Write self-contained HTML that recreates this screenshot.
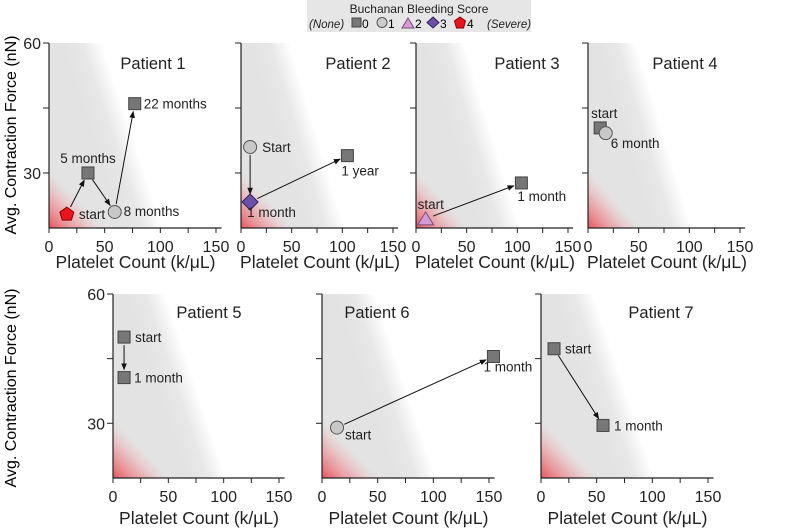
<!DOCTYPE html>
<html><head><meta charset="utf-8">
<style>
body{margin:0;background:#fff;}
svg{display:block;font-family:"Liberation Sans",Arial,sans-serif;}
</style></head>
<body>
<svg id="chart" width="797" height="528" viewBox="0 0 797 528" xmlns="http://www.w3.org/2000/svg">
<defs>
<marker id="arr" viewBox="0 0 10 10" refX="9" refY="5" markerWidth="7" markerHeight="7" orient="auto"><path d="M0,1 L10,5 L0,9 z" fill="#111"/></marker>
</defs>
<g>
<rect x="307" y="0" width="224" height="32" fill="#e6e6e6"/>
<text x="419" y="13" font-size="12" text-anchor="middle" fill="#222">Buchanan Bleeding Score</text>
<text x="309" y="28" font-size="11.5" font-style="italic" fill="#222">(None)</text>
<rect x="352" y="18" width="9" height="9" fill="#777" stroke="#444"/><text x="362" y="28" font-size="12">0</text>
<circle cx="382" cy="22.5" r="5" fill="#ccc" stroke="#555"/><text x="388" y="28" font-size="12">1</text>
<path d="M402,28 L408,18 L414,28 z" fill="#d59bd5" stroke="#7a4a7a"/><text x="415" y="28" font-size="12">2</text>
<path d="M433,17 L439,22.5 L433,28 L427,22.5 z" fill="#6a50a8" stroke="#33245a"/><text x="440" y="28" font-size="12">3</text>
<path d="M460,17 L465.5,21 L463.5,28 L456.5,28 L454.5,21 z" fill="#e8141e" stroke="#8a0000"/><text x="467" y="28" font-size="12">4</text>
<text x="487" y="28" font-size="11.5" font-style="italic" fill="#222">(Severe)</text>
</g>
<g id="panels"></g>
<text transform="translate(16,135) rotate(-90)" font-size="16" text-anchor="middle">Avg. Contraction Force (nN)</text>
<text transform="translate(16,388) rotate(-90)" font-size="16" text-anchor="middle">Avg. Contraction Force (nN)</text>
</svg>
<script>
// Data
const patientNames = ["Patient 1","Patient 2","Patient 3","Patient 4","Patient 5","Patient 6","Patient 7"];
const pointX = [[16,35,59,77],[9,9,105],[9.5,104],[12,17.5],[10,10],[13.5,154],[11.7,55.7]];
const pointY = [[20.5,30,21,46],[36,23.3,34],[19.4,27.7],[40.4,39.2],[50,40.6],[29,45.5],[47.3,29.5]];
const pointScore = [[4,0,1,0],[1,3,0],[2,0],[0,1],[0,0],[1,0],[0,0]];
const pointLabels = [["start","5 months","8 months","22 months"],["Start","1 month","1 year"],["start","1 month"],["start","6 month"],["start","1 month"],["start","1 month"],["start","1 month"]];
const xTicks = [0,50,100,150];
const xMinorTicks = [25,75,125];
const yTicks = [30,60];
const yMinorTicks = [45];

// Layout
const panelX0 = [49,241,416,588,113,322,541];
const panelW150 = [167,152,152,152,166,167,167];
const rowTop = [43,294], rowBot = [228,478];
const panelRow = [0,0,0,0,1,1,1];
const titleDX = [104,117,111,97,96,55,120];
const labelOff = [[[12,5,"start"],[0,-10,"middle"],[9,4,"start"],[9,5,"start"]],
 [[12,5,"start"],[-3,15,"start"],[-6,20,"start"]],
 [[-8,-10,"start"],[-4,18,"start"]],
 [[-9,-10,"start"],[5,15,"start"]],
 [[11,5,"start"],[10,5,"start"]],
 [[8,12,"start"],[-10,15,"start"]],
 [[11,5,"start"],[11,5,"start"]]];
const YMIN=17.3, YMAX=60, XMAX=155;
const NS="http://www.w3.org/2000/svg";
const root=document.getElementById('panels');
const defs=document.querySelector('defs');
function mk(tag,attrs,parent){const e=document.createElementNS(NS,tag);for(const k in attrs)e.setAttribute(k,attrs[k]);(parent||root).appendChild(e);return e;}

function drawMarker(g,s,px,py){
  let e;
  if(s===0)e=mk('rect',{x:px-6,y:py-6,width:12,height:12,fill:'#777',stroke:'#444','stroke-width':1},g);
  else if(s===1)e=mk('circle',{cx:px,cy:py,r:6.5,fill:'#c8c8c8',stroke:'#555','stroke-width':1},g);
  else if(s===2)e=mk('path',{d:`M${px-8},${py+6} L${px},${py-7} L${px+8},${py+6} z`,fill:'#d59bd5',stroke:'#7a4a7a','stroke-width':1},g);
  else if(s===3)e=mk('path',{d:`M${px},${py-8} L${px+8},${py} L${px},${py+8} L${px-8},${py} z`,fill:'#6a50a8',stroke:'#33245a','stroke-width':1},g);
  else e=mk('path',{d:`M${px},${py-7} L${px+7},${py-2} L${px+4.5},${py+6} L${px-4.5},${py+6} L${px-7},${py-2} z`,fill:'#e8141e',stroke:'#8a0000','stroke-width':1},g);
  
  
}

patientNames.forEach((name,i)=>{
  const r=panelRow[i], x0=panelX0[i], top=rowTop[r], bot=rowBot[r];
  const kx=panelW150[i]/150;
  const sx=v=>x0+v*kx;
  const sy=v=>bot-(v-YMIN)*(bot-top)/(YMAX-YMIN);
  const g=mk('g',{});
  
  
  const right=sx(XMAX);
  const ax=sx(45),ay=sy(60),bx=sx(100),by=sy(YMIN);
  let dx=bx-ax,dy=by-ay,L=Math.hypot(dx,dy),nx=dy/L,ny=-dx/L;
  const gid='gg'+i;
  const lg=mk('linearGradient',{id:gid,gradientUnits:'userSpaceOnUse',x1:ax-nx*35,y1:ay-ny*35,x2:ax+nx*3,y2:ay+ny*3},defs);
  mk('stop',{offset:0,'stop-color':'#e3e3e3'},lg);mk('stop',{offset:0.5,'stop-color':'#e8e8e8'},lg);mk('stop',{offset:1,'stop-color':'#ffffff'},lg);
  const bg=mk('rect',{x:x0,y:top,width:right-x0,height:bot-top,fill:`url(#${gid})`},g);
  
  
  const cx=sx(0),cy=sy(YMIN),p1x=sx(0),p1y=sy(31),p2x=sx(52),p2y=sy(YMIN);
  dx=p2x-p1x;dy=p2y-p1y;L=Math.hypot(dx,dy);
  let ux=dx/L,uy=dy/L;const t=(cx-p1x)*ux+(cy-p1y)*uy;
  const fx=p1x+ux*t,fy=p1y+uy*t;
  const rid='rg'+i;
  const rg=mk('linearGradient',{id:rid,gradientUnits:'userSpaceOnUse',x1:cx,y1:cy,x2:fx,y2:fy},defs);
  mk('stop',{offset:0,'stop-color':'#e64a55','stop-opacity':0.95},rg);mk('stop',{offset:0.55,'stop-color':'#ee8a90','stop-opacity':0.55},rg);mk('stop',{offset:1,'stop-color':'#f4b8bb','stop-opacity':0},rg);
  const red=mk('path',{d:`M${cx},${p1y} L${p2x},${cy} L${cx},${cy} z`,fill:`url(#${rid})`},g);
  
  
  mk('line',{x1:x0,y1:top,x2:x0,y2:bot,stroke:'#222','stroke-width':1.2},g);
  mk('line',{x1:x0,y1:bot,x2:right,y2:bot,stroke:'#222','stroke-width':1.2},g);
  xTicks.concat(xMinorTicks).forEach(v=>mk('line',{x1:sx(v),y1:bot,x2:sx(v),y2:bot+5,stroke:'#222'},g));
  xTicks.forEach(v=>{const tx=mk('text',{x:sx(v),y:bot+24,'font-size':16,'text-anchor':'middle',fill:'#222'},g);tx.textContent=v;
    
    });
  yTicks.concat(yMinorTicks).forEach(v=>mk('line',{x1:x0-6,y1:sy(v),x2:x0,y2:sy(v),stroke:'#222'},g));
  if(i===0||i===4){yTicks.forEach(v=>{const ty=mk('text',{x:x0-8,y:sy(v)+6,'font-size':16,'text-anchor':'end',fill:'#222'},g);ty.textContent=v;
    
    });}
  const xl=mk('text',{x:(x0+sx(150))/2+3,y:r===0?268:524,'font-size':17.5,'text-anchor':'middle',fill:'#222'},g);
  xl.textContent='Platelet Count (k/μL)';
  
  
  const tt=mk('text',{x:x0+titleDX[i],y:r===0?69:318,'font-size':16.5,'text-anchor':'middle',fill:'#222'},g);
  tt.textContent=name;
  
  
  const xs=pointX[i],ys=pointY[i];
  for(let k=0;k<xs.length-1;k++){
    const ax1=sx(xs[k]),ay1=sy(ys[k]),bx1=sx(xs[k+1]),by1=sy(ys[k+1]);
    const d=Math.hypot(bx1-ax1,by1-ay1);if(d<16)continue;
    const ux1=(bx1-ax1)/d,uy1=(by1-ay1)/d;
    const ln=mk('line',{x1:ax1+ux1*8,y1:ay1+uy1*8,x2:bx1-ux1*8,y2:by1-uy1*8,stroke:'#111','stroke-width':1,'marker-end':'url(#arr)'},g);
    
    
  }
  xs.forEach((v,k)=>{
    const px=sx(v),py=sy(ys[k]);
    drawMarker(g,pointScore[i][k],px,py);
    const o=labelOff[i][k];
    const lb=mk('text',{x:px+o[0],y:py+o[1],'font-size':13.5,'text-anchor':o[2],fill:'#222'},g);
    lb.textContent=pointLabels[i][k];
    
    
  });
});
</script>
</body></html>
